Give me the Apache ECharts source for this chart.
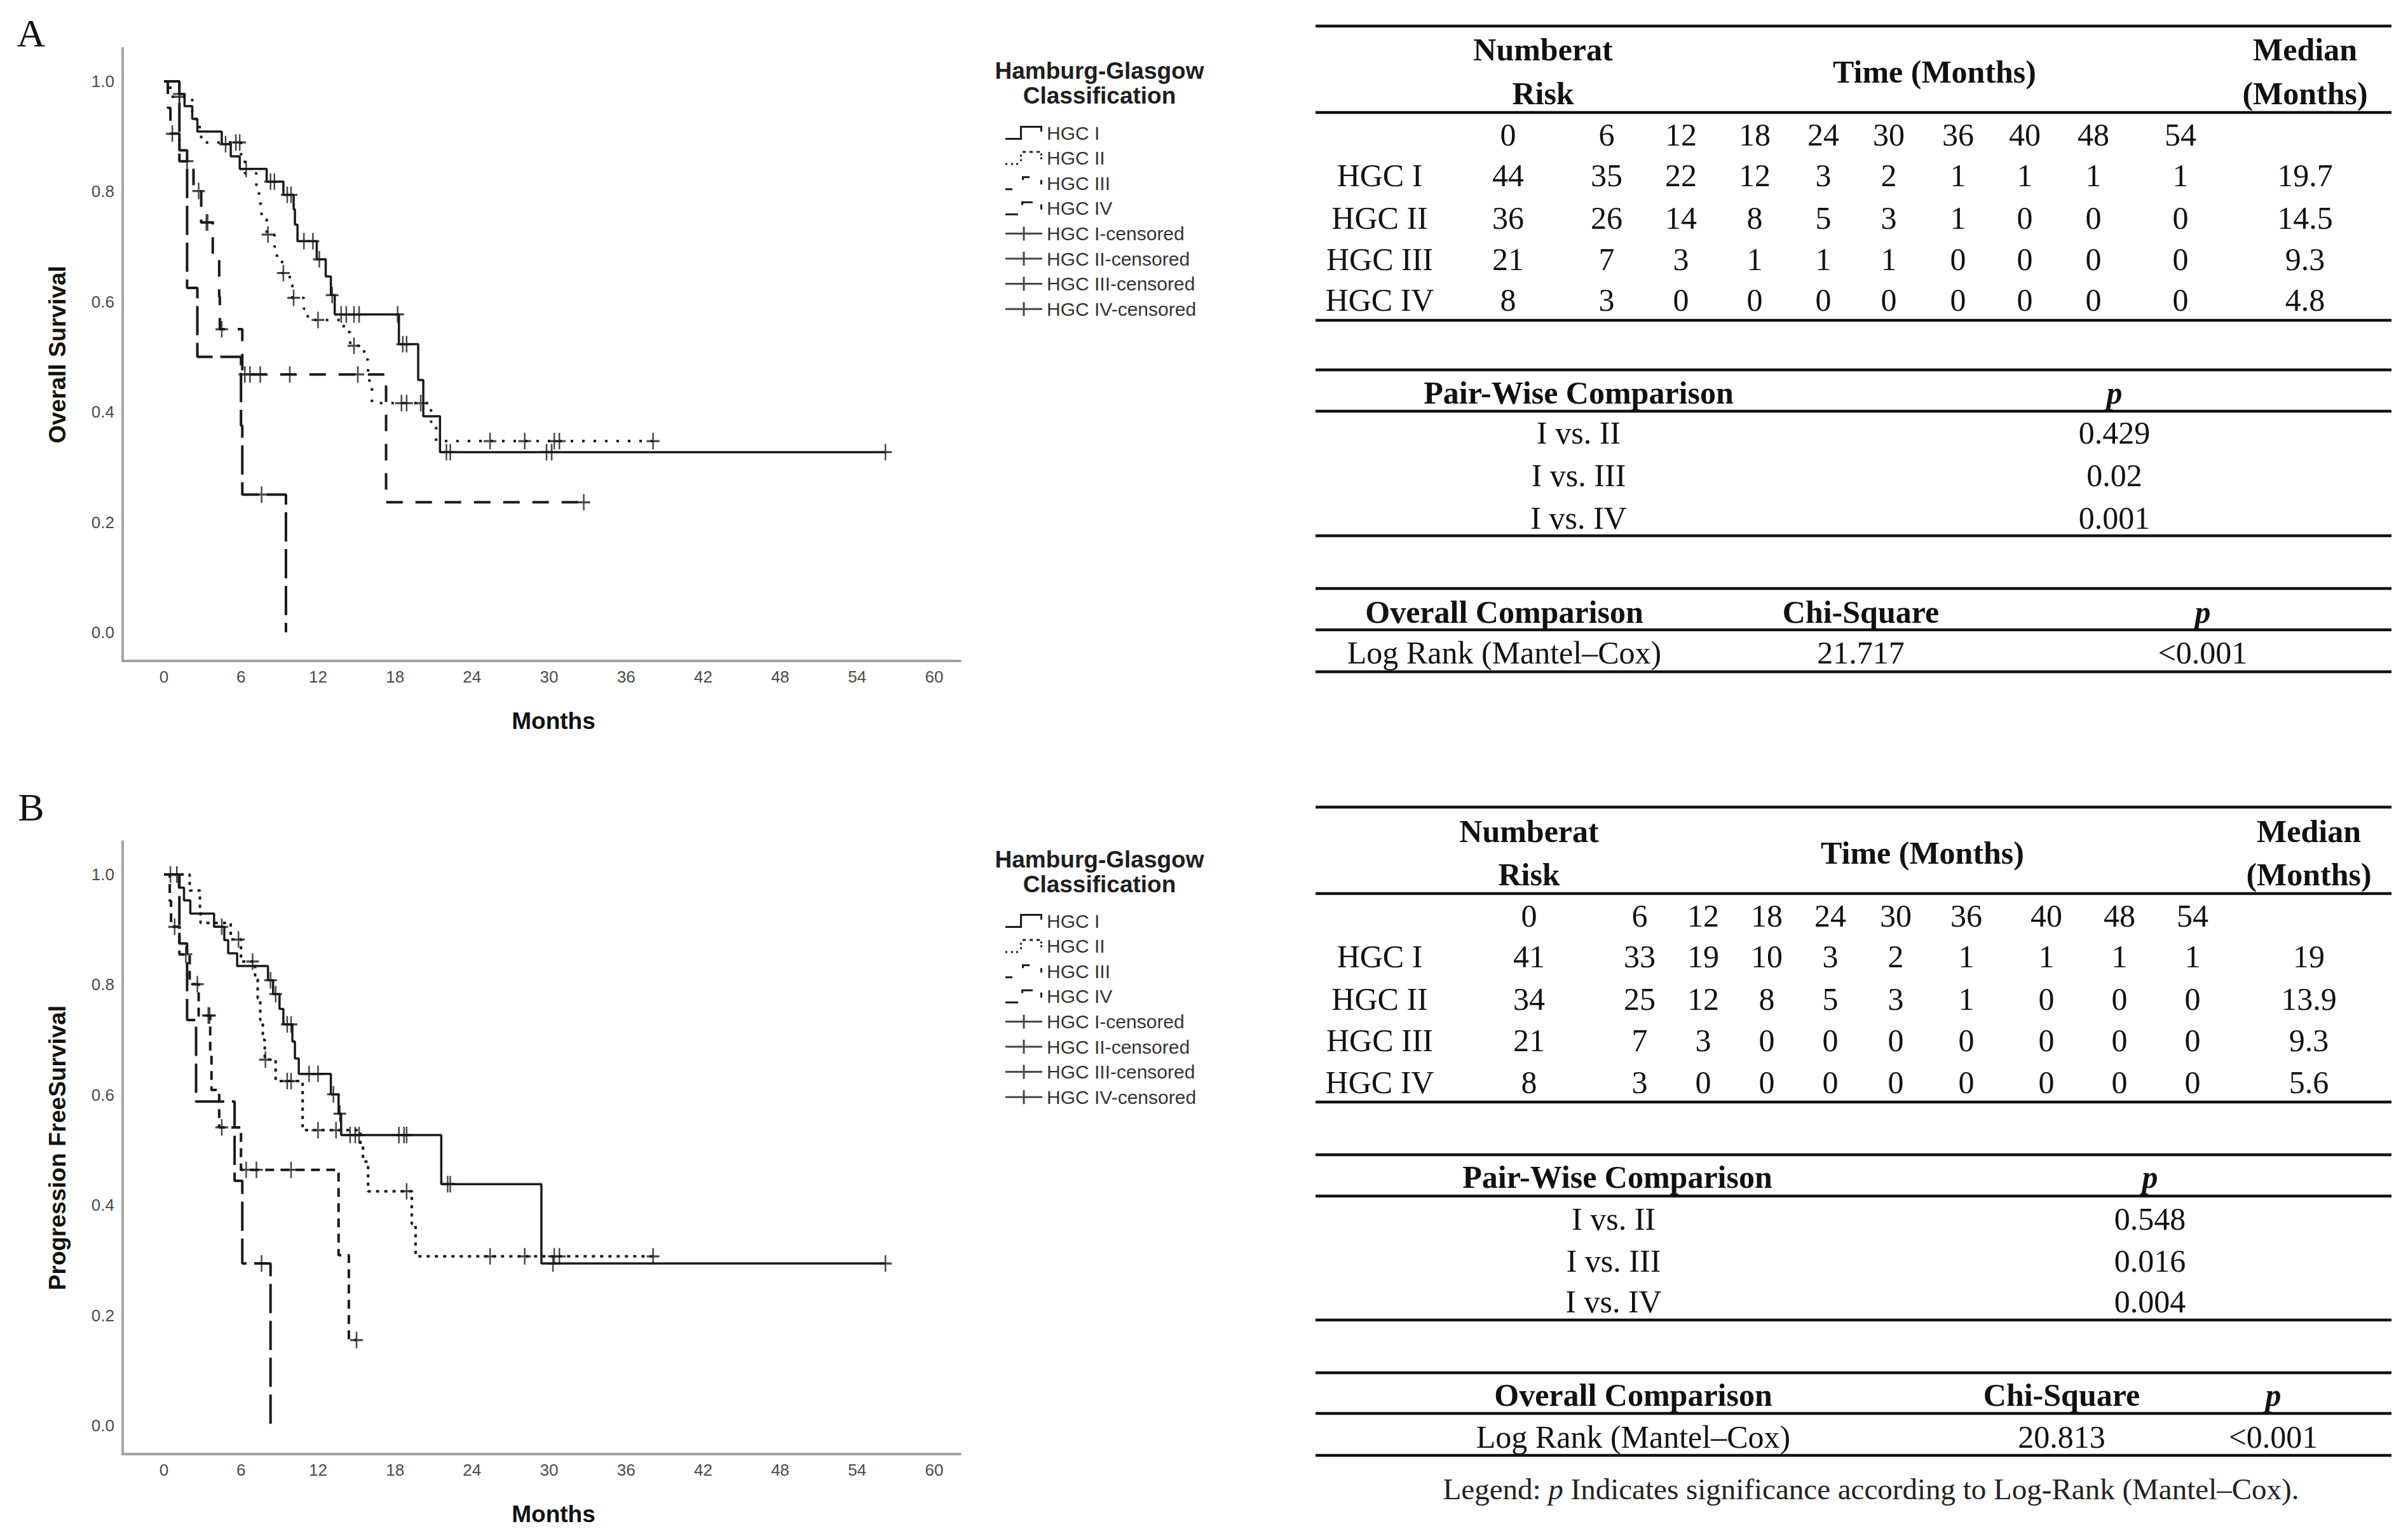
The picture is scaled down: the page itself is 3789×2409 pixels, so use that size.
<!DOCTYPE html>
<html>
<head>
<meta charset="utf-8">
<script src="https://cdn.jsdelivr.net/npm/echarts@6.0.0/dist/echarts.min.js"></script>
<style>
html,body{margin:0;padding:0;background:#fff;}
#c{width:3789px;height:2409px;}
</style>
</head>
<body>
<div id="c"></div>
<script>
// ---------------- DATA ----------------
const xTickValues = [0, 6, 12, 18, 24, 30, 36, 42, 48, 54, 60];
const yTickValues = [0, 0.2, 0.4, 0.6, 0.8, 1.0];
const groupNames = ['HGC I', 'HGC II', 'HGC III', 'HGC IV'];
const censoredNames = ['HGC I-censored', 'HGC II-censored', 'HGC III-censored', 'HGC IV-censored'];
const legendTitle = 'Hamburg-Glasgow\nClassification';
const yNameA = 'Overall Survival';
const yNameB = 'Progression FreeSurvival';
const xName = 'Months';

// Panel A: overall survival (time in months, survival proportion)
const osI_t = [0, 1.2, 1.6, 2.2, 2.6, 4.5, 5.2, 5.9, 8.0, 9.3, 10.1, 10.2, 10.4, 11.9, 12.6, 13.0, 13.3, 18.3, 19.8, 20.2, 21.5, 56.2];
const osI_s = [1, 0.977, 0.955, 0.932, 0.909, 0.886, 0.864, 0.841, 0.818, 0.794, 0.768, 0.740, 0.710, 0.677, 0.646, 0.612, 0.577, 0.523, 0.458, 0.392, 0.327, 0.327];
const osI_c = [[1.2,0.977],[4.8,0.886],[6.4,0.841],[8.3,0.818],[8.6,0.818],[9.6,0.794],[9.9,0.794],[10.9,0.71],[11.6,0.71],[12.1,0.677],[13.1,0.612],[13.8,0.577],[14.2,0.577],[14.8,0.577],[15.2,0.577],[18.2,0.577],[18.6,0.523],[18.9,0.523],[22.0,0.327],[22.3,0.327],[29.8,0.327],[30.2,0.327],[56.2,0.327]];

const osII_t = [0, 0.5, 2.2, 2.5, 2.9, 6.0, 6.3, 7.2, 7.4, 7.6, 8.0, 8.6, 8.8, 9.2, 9.8, 10.0, 10.9, 11.2, 14.0, 14.5, 15.6, 15.9, 16.0, 16.2, 20.8, 21.2, 38.1];
const osII_s = [1, 0.972, 0.944, 0.917, 0.889, 0.861, 0.833, 0.806, 0.778, 0.75, 0.722, 0.70, 0.675, 0.652, 0.63, 0.607, 0.587, 0.567, 0.545, 0.52, 0.495, 0.47, 0.445, 0.416, 0.382, 0.347, 0.347];
const osII_c = [[1.2,0.972],[5.6,0.889],[5.9,0.889],[8.1,0.722],[9.3,0.652],[10.1,0.607],[12.0,0.567],[14.8,0.52],[18.5,0.416],[18.9,0.416],[20.0,0.416],[25.4,0.347],[28.1,0.347],[30.4,0.347],[30.8,0.347],[38.1,0.347]];

const osIII_t = [0, 0.3, 0.5, 1.2, 2.3, 2.9, 3.8, 4.3, 4.35, 6.1, 17.3, 32.7];
const osIII_s = [1, 0.952, 0.905, 0.855, 0.801, 0.744, 0.676, 0.609, 0.55, 0.468, 0.236, 0.236];
const osIII_c = [[0.65,0.905],[1.8,0.855],[2.7,0.801],[3.3,0.744],[3.4,0.744],[4.5,0.55],[6.3,0.468],[6.7,0.468],[7.5,0.468],[9.8,0.468],[15.1,0.468],[32.7,0.236]];

const osIV_t = [0, 1.2, 1.8, 2.6, 6.0, 6.1, 9.5];
const osIV_s = [1, 0.875, 0.625, 0.5, 0.375, 0.25, 0];
const osIV_c = [[7.6,0.25]];

// Panel B: progression free survival
const pfsI_t = [0, 1.16, 1.56, 2.05, 3.9, 4.7, 5.0, 5.7, 8.1, 8.5, 9.0, 9.3, 10.0, 10.2, 10.5, 13.0, 13.6, 13.8, 21.6, 29.4, 56.2];
const pfsI_s = [1, 0.976, 0.953, 0.929, 0.905, 0.881, 0.857, 0.834, 0.808, 0.783, 0.756, 0.728, 0.697, 0.666, 0.638, 0.601, 0.566, 0.527, 0.438, 0.294, 0.294];
const pfsI_c = [[0.5,1],[1.0,1],[4.5,0.905],[8.3,0.808],[8.7,0.783],[9.6,0.728],[9.9,0.728],[11.3,0.638],[12.0,0.638],[13.2,0.601],[13.7,0.566],[14.5,0.527],[14.9,0.527],[15.2,0.527],[18.3,0.527],[18.7,0.527],[18.9,0.527],[22.1,0.438],[22.3,0.438],[30.3,0.294],[56.2,0.294]];

const pfsII_t = [0, 2.0, 2.8, 2.85, 5.2, 6.0, 7.1, 7.3, 7.5, 7.7, 7.85, 8.7, 10.8, 15.3, 15.5, 15.9, 19.3, 19.6, 38.1];
const pfsII_s = [1, 0.971, 0.941, 0.912, 0.882, 0.842, 0.81, 0.775, 0.736, 0.70, 0.664, 0.625, 0.536, 0.507, 0.479, 0.425, 0.366, 0.307, 0.307];
const pfsII_c = [[5.8,0.882],[6.9,0.842],[7.9,0.664],[9.6,0.625],[9.9,0.625],[12.0,0.536],[13.4,0.536],[18.9,0.425],[25.4,0.307],[28.1,0.307],[30.4,0.307],[30.8,0.307],[38.1,0.307]];

const pfsIII_t = [0, 0.45, 0.55, 1.2, 2.0, 2.7, 3.6, 3.7, 4.3, 6.0, 13.6, 14.4, 15.0];
const pfsIII_s = [1, 0.952, 0.905, 0.855, 0.801, 0.744, 0.676, 0.609, 0.541, 0.464, 0.309, 0.155, 0.155];
const pfsIII_c = [[0.83,0.905],[1.7,0.855],[2.6,0.801],[3.45,0.744],[3.55,0.744],[4.5,0.541],[6.4,0.464],[7.2,0.464],[9.9,0.464],[15.0,0.155]];

const pfsIV_t = [0, 1.2, 1.8, 2.5, 5.5, 6.1, 8.3];
const pfsIV_s = [1, 0.875, 0.736, 0.588, 0.444, 0.294, 0];
const pfsIV_c = [[7.6,0.294]];

// Tables
const riskTimes = ['0', '6', '12', '18', '24', '30', '36', '40', '48', '54'];
const riskA = [[44,35,22,12,3,2,1,1,1,1],[36,26,14,8,5,3,1,0,0,0],[21,7,3,1,1,1,0,0,0,0],[8,3,0,0,0,0,0,0,0,0]];
const medianA = ['19.7', '14.5', '9.3', '4.8'];
const riskB = [[41,33,19,10,3,2,1,1,1,1],[34,25,12,8,5,3,1,0,0,0],[21,7,3,0,0,0,0,0,0,0],[8,3,0,0,0,0,0,0,0,0]];
const medianB = ['19', '13.9', '9.3', '5.6'];
const pairLabels = ['I vs. II', 'I vs. III', 'I vs. IV'];
const pairPA = ['0.429', '0.02', '0.001'];
const pairPB = ['0.548', '0.016', '0.004'];
const overallTest = 'Log Rank (Mantel\u2013Cox)';
const chiA = '21.717', chiB = '20.813';
const overallPA = '<0.001', overallPB = '<0.001';

// ---------------- STYLE / LAYOUT ----------------
const INK = '#1a1a1a';
const SANS = '"Liberation Sans", Arial, sans-serif';
const SERIF = '"Liberation Serif", "Times New Roman", serif';
function r(x, y, w, h) { return 'M' + x + ',' + y + 'h' + w + 'v' + h + 'h' + (-w) + 'Z'; }
const PLUS = 'path://' + r(-12, -1.5, 24, 3) + r(-1.5, -12, 3, 24);
const ICONS = {
  'HGC I': 'path://M0,19L23,19L23,0L58,0L58,9L55,9L55,3L26,3L26,22L0,22Z',
  'HGC II': 'path://' + r(0,19,3,3) + r(9,19,3,3) + r(17,19,3,3) + r(23,13,3,3) + r(23,6,3,3) + r(27,0,5,3) + r(38,0,5,3) + r(49,0,5,3) + r(55,4,3,3) + r(55,10,3,3),
  'HGC III': 'path://' + r(0,19,11,3) + r(26,0,12,3) + r(26,0,3,6) + r(55,6,3,7),
  'HGC IV': 'path://' + r(0,19,20,3) + r(25,0,18,3) + r(25,0,3,6) + r(55,5,3,8)
};
const CENS_ICON = 'path://' + r(0,9.5,58,3) + r(27.5,0,3,22);

const dashA = [null, [4, 14], [26, 20], [46, 12]];
const dashB = [null, [5, 8], [14, 10], [46, 12]];

function kmLine(name, t, s, gi, dash) {
  return {
    type: 'line', name: name, xAxisIndex: gi, yAxisIndex: gi, step: 'end',
    showSymbol: false, symbol: 'none', silent: true, animation: false, z: 3,
    data: t.map(function (v, i) { return [v, s[i]]; }),
    lineStyle: { color: INK, width: dash ? 4 : 3.5, type: dash || 'solid', cap: 'butt' },
    itemStyle: { color: INK }
  };
}
function kmCens(name, c, gi) {
  return {
    type: 'scatter', name: name, xAxisIndex: gi, yAxisIndex: gi, data: c,
    symbol: PLUS, symbolSize: [20, 26], itemStyle: { color: INK },
    silent: true, animation: false, z: 4
  };
}

const panels = [
  { lines: [[osI_t, osI_s], [osII_t, osII_s], [osIII_t, osIII_s], [osIV_t, osIV_s]], cens: [osI_c, osII_c, osIII_c, osIV_c], dash: dashA },
  { lines: [[pfsI_t, pfsI_s], [pfsII_t, pfsII_s], [pfsIII_t, pfsIII_s], [pfsIV_t, pfsIV_s]], cens: [pfsI_c, pfsII_c, pfsIII_c, pfsIV_c], dash: dashB }
];
const series = [];
panels.forEach(function (p, gi) {
  p.lines.forEach(function (ln, k) { series.push(kmLine(groupNames[k], ln[0], ln[1], gi, p.dash[k])); });
  p.cens.forEach(function (c, k) { series.push(kmCens(censoredNames[k], c, gi)); });
});

const GRID_TOP = [76, 1324];
function xAxisCfg(gi) {
  return {
    type: 'value', gridIndex: gi, min: -3.22, max: 62.03,
    name: xName, nameLocation: 'middle', nameGap: 76,
    nameTextStyle: { fontSize: 37, fontWeight: 'bold', color: '#111', fontFamily: SANS, padding: [0, 0, 0, 38] },
    axisLine: { onZero: false, lineStyle: { color: '#a3a3a3', width: 4 } },
    axisTick: { show: false }, splitLine: { show: false },
    axisLabel: { customValues: xTickValues, margin: 12, fontSize: 26, color: '#4a4a4a', fontFamily: SANS }
  };
}
function yAxisCfg(gi, name) {
  return {
    type: 'value', gridIndex: gi, min: -0.052, max: 1.06,
    name: name, nameLocation: 'middle', nameGap: 84, nameRotate: 90,
    nameTextStyle: { fontSize: 37, fontWeight: 'bold', color: '#111', fontFamily: SANS },
    axisLine: { onZero: false, lineStyle: { color: '#a3a3a3', width: 4 } },
    axisTick: { show: false }, splitLine: { show: false },
    axisLabel: { customValues: yTickValues, margin: 13, fontSize: 26, color: '#4a4a4a', fontFamily: SANS,
      formatter: function (v) { return v.toFixed(1); } }
  };
}

const legendData = groupNames.map(function (g) { return { name: g, icon: ICONS[g] }; })
  .concat(censoredNames.map(function (g) { return { name: g, icon: CENS_ICON }; }));
function legendCfg(top) {
  return {
    orient: 'vertical', left: 1577, top: top, align: 'left',
    itemWidth: 58, itemHeight: 22, itemGap: 9.6, selectedMode: false,
    itemStyle: { borderWidth: 0 },
    textStyle: { fontSize: 30, color: '#333', fontFamily: SANS, padding: [0, 0, 0, 2] },
    data: legendData
  };
}

// ---------------- GRAPHIC (labels + tables) ----------------
const G = [];
function T(text, x, y, o) {
  o = o || {};
  G.push({
    type: 'text', x: x, y: y, silent: true, z: 10,
    style: {
      text: text, fill: o.fill || '#111', fontSize: o.size || 50,
      fontFamily: o.family || SERIF, fontWeight: o.bold ? 'bold' : 'normal',
      fontStyle: o.italic ? 'italic' : 'normal',
      align: o.align || 'center', verticalAlign: 'middle',
      textAlign: o.align || 'center', textVerticalAlign: 'middle',
      lineHeight: o.lineHeight, rich: o.rich
    }
  });
}
function L(y, w) {
  G.push({ type: 'line', silent: true, z: 10, shape: { x1: 2070, y1: y, x2: 3763, y2: y }, style: { stroke: '#111', lineWidth: w || 4.5 } });
}

// Panel letters & legend titles
T('A', 49, 52, { size: 62 });
T('B', 49, 1270, { size: 62 });
T(legendTitle, 1730, 131, { size: 37, bold: true, family: SANS, fill: '#1e1e1e', lineHeight: 39 });
T(legendTitle, 1730, 1372, { size: 37, bold: true, family: SANS, fill: '#1e1e1e', lineHeight: 39 });

const DX = -15;
function TT(text, x, y, o) { T(text, x + DX, y, o); }

function buildTable(cfg, risk, median, pairP, chi, pOverall) {
  L(cfg.rules[0]); L(cfg.rules[1]); L(cfg.rules[2]);
  TT('Numberat', cfg.nrX, cfg.h1, { bold: true });
  TT('Risk', cfg.nrX, cfg.h2, { bold: true });
  TT('Time (Months)', cfg.timeHX, (cfg.h1 + cfg.h2) / 2, { bold: true });
  TT('Median', cfg.medX, cfg.h1, { bold: true });
  TT('(Months)', cfg.medX, cfg.h2, { bold: true });
  riskTimes.forEach(function (t, j) { TT(t, cfg.colX[j], cfg.timeY); });
  groupNames.forEach(function (g, i) {
    TT(g, 2186, cfg.rowY[i]);
    risk[i].forEach(function (v, j) { TT(String(v), cfg.colX[j], cfg.rowY[i]); });
    TT(median[i], cfg.medX, cfg.rowY[i]);
  });
  L(cfg.rules[3]); L(cfg.rules[4]); L(cfg.rules[5]);
  TT('Pair-Wise Comparison', cfg.pwX, cfg.pwH, { bold: true });
  TT('p', cfg.pwPX, cfg.pwH, { bold: true, italic: true });
  pairLabels.forEach(function (lab, i) {
    TT(lab, cfg.pwLX, cfg.pwRows[i]);
    TT(pairP[i], cfg.pwPX, cfg.pwRows[i]);
  });
  L(cfg.rules[6]); L(cfg.rules[7]); L(cfg.rules[8]);
  TT('Overall Comparison', cfg.ocX, cfg.ocH, { bold: true });
  TT('Chi-Square', cfg.chiX, cfg.ocH, { bold: true });
  TT('p', cfg.ocPX, cfg.ocH, { bold: true, italic: true });
  TT(overallTest, cfg.ocX, cfg.ocRow);
  TT(chi, cfg.chiX, cfg.ocRow);
  TT(pOverall, cfg.ocPX, cfg.ocRow);
}

buildTable({
  rules: [41, 177, 504, 582, 647, 843, 926, 991, 1057],
  nrX: 2443, h1: 78, h2: 147, timeHX: 3059, medX: 3642,
  colX: [2388, 2543, 2660, 2776, 2884, 2987, 3096, 3201, 3309, 3446], timeY: 212,
  rowY: [276, 343, 408, 472],
  pwX: 2499, pwLX: 2499, pwPX: 3342, pwH: 618, pwRows: [681, 748, 815],
  ocX: 2382, chiX: 2943, ocPX: 3481, ocH: 963, ocRow: 1027
}, riskA, medianA, pairPA, chiA, overallPA);

buildTable({
  rules: [1270, 1406, 1734, 1817, 1882, 2077, 2160, 2224, 2290],
  nrX: 2421, h1: 1308, h2: 1376, timeHX: 3040, medX: 3648,
  colX: [2421, 2595, 2695, 2795, 2895, 2998, 3109, 3235, 3350, 3465], timeY: 1441,
  rowY: [1505, 1572, 1637, 1703],
  pwX: 2560, pwLX: 2554, pwPX: 3398, pwH: 1852, pwRows: [1918, 1984, 2048],
  ocX: 2585, chiX: 3259, ocPX: 3592, ocH: 2195, ocRow: 2261
}, riskB, medianB, pairPB, chiB, overallPB);

TT('{a|Legend: }{i|p}{a| Indicates significance according to Log-Rank (Mantel\u2013Cox).}', 2959, 2343, {
  size: 47,
  rich: {
    a: { fontSize: 47, fontFamily: SERIF, fill: '#222' },
    i: { fontSize: 47, fontFamily: SERIF, fontStyle: 'italic', fill: '#222' }
  }
});

// ---------------- CHART ----------------
const chart = echarts.init(document.getElementById('c'), null, { renderer: 'svg', width: 3789, height: 2409 });
chart.setOption({
  backgroundColor: '#ffffff',
  animation: false,
  grid: [
    { left: 193, top: GRID_TOP[0], width: 1318, height: 964 },
    { left: 193, top: GRID_TOP[1], width: 1318, height: 964 }
  ],
  xAxis: [xAxisCfg(0), xAxisCfg(1)],
  yAxis: [yAxisCfg(0, yNameA), yAxisCfg(1, yNameB)],
  legend: [legendCfg(189), legendCfg(1429)],
  series: series,
  graphic: { elements: G }
});
</script>
</body>
</html>
